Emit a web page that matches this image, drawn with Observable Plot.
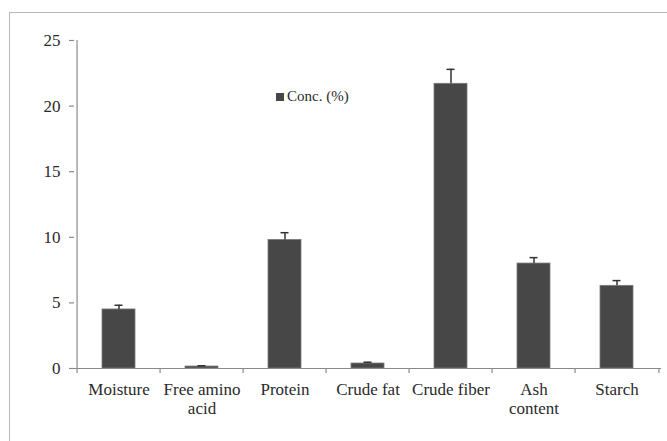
<!DOCTYPE html>
<html>
<head>
<meta charset="utf-8">
<script src="https://cdn.jsdelivr.net/npm/d3@7"></script>
<script src="https://cdn.jsdelivr.net/npm/@observablehq/plot@0.6"></script>
<style>
  html, body { margin: 0; padding: 0; background: #fff; }
  #wrap { position: relative; width: 667px; height: 441px; overflow: hidden; font-family: "Liberation Serif", serif; }
  #border { position: absolute; left: 9px; top: 12px; width: 700px; height: 500px; border-left: 1px solid #b8b8b8; border-top: 1px solid #b8b8b8; }
  #chart { position: absolute; left: 0; top: 0; }
  #legend { position: absolute; left: 276px; top: 88px; font-size: 15px; color: #2a2a2a; display: flex; align-items: center; font-family: "Liberation Serif", serif; }
  #legend .sw { width: 8px; height: 8px; background: #474747; margin-right: 3px; }
</style>
</head>
<body>
<div id="wrap">
  <div id="border"></div>
  <div id="chart"></div>
  <div id="legend"><span class="sw"></span><span>Conc. (%)</span></div>
</div>
<script>
const categories = ["Moisture", "Free amino acid", "Protein", "Crude fat", "Crude fiber", "Ash content", "Starch"];
const tickLabels = ["Moisture", "Free amino\nacid", "Protein", "Crude fat", "Crude fiber", "Ash\ncontent", "Starch"];
const values = [4.5, 0.15, 9.8, 0.38, 21.7, 8.0, 6.3];
const errors = [0.32, 0.06, 0.55, 0.1, 1.1, 0.45, 0.4];
const yTicks = [0, 5, 10, 15, 20, 25];

const data = categories.map((c, i) => ({cat: c, value: values[i], err: errors[i]}));
const labelOf = new Map(categories.map((c, i) => [c, tickLabels[i]]));

const W = 667, H = 441;
const mL = 74, mR = 6, mT = 40, mB = 73;
const step = (W - mL - mR) / categories.length;
const axisColor = "#8a8a8a";
const font = "Liberation Serif";

const plot = Plot.plot({
  width: W,
  height: H,
  marginLeft: mL,
  marginRight: mR,
  marginTop: mT,
  marginBottom: mB,
  style: {fontFamily: font, fontSize: "17px", color: "#2a2a2a", background: "transparent"},
  x: {domain: categories, paddingInner: 0.6, paddingOuter: 0.3, label: null},
  y: {domain: [0, 25], label: null},
  marks: [
    Plot.barY(data, {x: "cat", y: "value", fill: "#474747", stroke: "#7a7a7a", strokeWidth: 0.8}),
    Plot.ruleX(data, {x: "cat", y1: "value", y2: d => d.value + d.err, stroke: "#333", strokeWidth: 1.5}),
    Plot.tickY(data, {x: "cat", y: d => d.value + d.err, stroke: "#333", strokeWidth: 1.5, insetLeft: 12.5, insetRight: 12.5}),
    Plot.ruleY([0], {stroke: axisColor, strokeWidth: 1.2}),
    Plot.ruleX([categories[0]], {dx: -step / 2, y1: 0, y2: 25, stroke: axisColor, strokeWidth: 1.2}),
    Plot.ruleX(categories, {dx: -step / 2, y1: 0, y2: 0, insetBottom: -5, stroke: axisColor, strokeWidth: 1.2}),
    Plot.ruleX([categories[categories.length - 1]], {dx: step / 2, y1: 0, y2: 0, insetBottom: -5, stroke: axisColor, strokeWidth: 1.2}),
    Plot.axisX({tickSize: 0, tickPadding: 13, tickFormat: d => labelOf.get(d), lineHeight: 1.12, fontSize: 17, fill: "#2a2a2a"}),
    Plot.axisY({ticks: yTicks, tickSize: 5, tickPadding: 9, stroke: axisColor, strokeWidth: 1.2, fontSize: 17, fill: "#2a2a2a", tickFormat: d => String(d)})
  ]
});
document.getElementById("chart").appendChild(plot);
</script>
</body>
</html>
